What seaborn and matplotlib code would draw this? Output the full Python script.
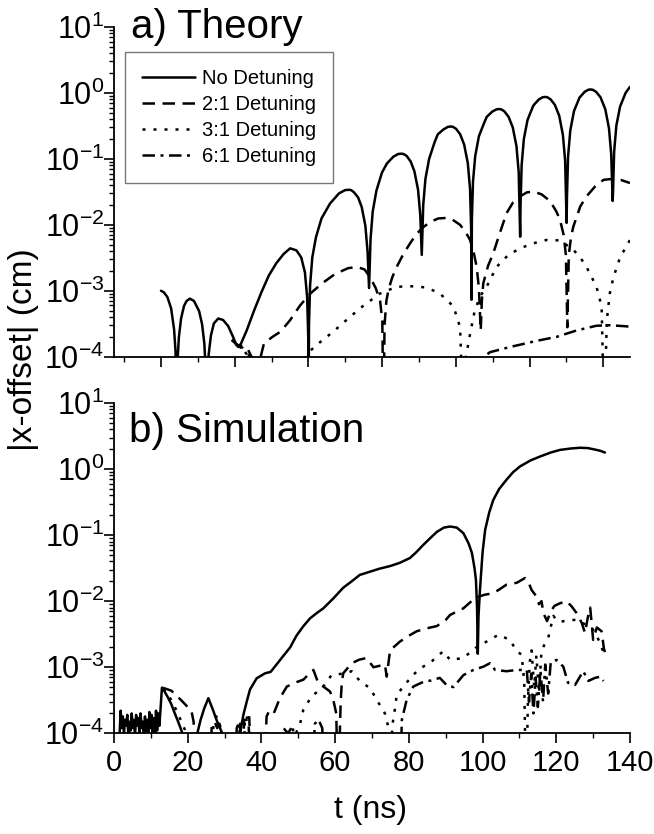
import numpy as np
import pandas as pd
import matplotlib
matplotlib.use("Agg")
import matplotlib.pyplot as plt
from matplotlib.lines import Line2D
from matplotlib.ticker import LogLocator, MultipleLocator, LogFormatterSciNotation
import seaborn as sns

# ---------------- data: a) Theory (time axis of the theory panel) ----------------
th_none_t = [0.0, 0.75, 1.75, 2.75, 3.55, 3.95, 4.25,
             4.55, 4.85, 5.45, 6.25, 6.95, 7.85, 8.95, 10.35, 11.15, 11.75, 12.05, 12.35,
             12.65, 12.95, 13.55, 14.35, 15.55, 16.85, 18.25, 19.55, 20.45, 21.05, 21.75,
             23.25, 25.25, 27.25, 29.25, 31.25, 33.25, 35.05, 36.75, 38.05, 39.05, 39.65, 39.95, 40.05,
             40.15, 40.45, 41.05, 42.05, 43.55, 45.85, 48.3, 49.95, 51.05, 51.59, 52.4, 53.48, 54.45,
             55.45, 56.05, 56.45,
             56.85, 57.45, 58.45, 59.95, 61.29, 63.05, 64.37, 65.25, 65.8, 66.65, 67.75, 68.75, 69.75,
             70.35, 70.75,
             71.15, 71.75, 72.75, 74.25, 75.1, 76.65, 77.86, 78.65, 79.21, 80.05, 81.17, 82.25, 83.25,
             83.85, 84.15, 84.25,
             84.35, 84.65, 85.25, 86.25, 87.75, 88.375, 89.85, 91.0, 91.75, 92.32, 93.15, 94.32, 95.45,
             96.45, 97.05, 97.45,
             97.55, 97.85, 98.45, 99.45, 100.95, 101.19, 102.55, 103.57, 104.25, 104.83, 105.7, 106.86,
             108.05, 109.05, 109.65, 110.05,
             110.15, 110.45, 111.05, 112.05, 113.55, 114.95, 115.9, 116.55, 117.15, 118.05, 119.25,
             120.55, 121.55, 122.15, 122.55,
             122.65, 122.95, 123.55, 124.55, 126.05, 127.25]
th_none_y = [1.0e-3, 9.5e-4, 8.0e-4, 5.4e-4, 2.6e-4, 1.2e-4, 1e-5,
             9.9e-5, 1.97e-4, 3.8e-4, 5.9e-4, 7.0e-4, 7.6e-4, 7.0e-4, 4.9e-4, 3.1e-4, 1.6e-4, 7.9e-5, 1e-5,
             5.6e-5, 1.1e-4, 2.1e-4, 3.2e-4, 3.8e-4, 3.6e-4, 2.9e-4, 2.0e-4, 1.5e-4, 1.4e-4, 1.6e-4,
             2.5e-4, 5.0e-4, 9.5e-4, 1.7e-3, 2.6e-3, 3.6e-3, 4.4e-3, 4.1e-3, 3.2e-3, 1.9e-3, 8.0e-4, 2.0e-4, 1e-5,
             3.0e-4, 1.2e-3, 3.2e-3, 6.5e-3, 1.25e-2, 2.1e-2, 3.0e-2, 3.36e-2, 3.4e-2, 3.36e-2, 3.1e-2,
             2.6e-2, 1.87e-2, 9.7e-3, 3.9e-3, 1.1e-3,
             6.0e-3, 1.6e-2, 3.3e-2, 6.2e-2, 8.5e-2, 0.108, 0.1186, 0.12, 0.1186, 0.111, 9.1e-2, 6.5e-2,
             3.4e-2, 1.4e-2, 3.5e-3,
             2.0e-2, 5.0e-2, 0.10, 0.18, 0.236, 0.28, 0.306, 0.31, 0.306, 0.286, 0.236, 0.165, 8.6e-2,
             3.5e-2, 8.7e-3, 7.3e-4,
             1.2e-2, 4.5e-2, 0.11, 0.22, 0.36, 0.433, 0.52, 0.563, 0.57, 0.563, 0.527, 0.433, 0.299,
             0.155, 6.3e-2, 6.6e-3,
             2.0e-2, 8.0e-2, 0.20, 0.39, 0.63, 0.661, 0.80, 0.86, 0.87, 0.86, 0.80, 0.661,
             0.45, 0.23, 9.4e-2, 1.07e-2,
             2.7e-2, 0.109, 0.27, 0.53, 0.85, 1.04, 1.116, 1.13, 1.116, 1.04, 0.859,
             0.565, 0.29, 0.118, 2.3e-2,
             3.2e-2, 0.129, 0.32, 0.62, 1.0, 1.24]

th_21_t = [19.25, 20.75, 22.25, 23.55, 24.55, 25.25, 26.05, 26.85, 27.95, 30.25, 32.45, 35.05, 37.75,
           40.45, 43.75, 47.25, 50.75, 53.25, 55.25, 56.75, 58.25, 59.45, 60.05, 60.35,
           60.65, 61.15, 61.75, 62.75, 63.95, 65.75, 67.55, 69.25, 71.25, 73.25, 75.25, 77.25, 79.05,
           81.15, 82.75, 83.85, 84.85, 85.65, 86.25, 86.75,
           87.05, 87.45, 88.75, 90.15, 91.75, 93.75, 95.55, 97.45, 99.25, 101.05, 103.25, 105.55,
           107.25, 108.25, 109.25, 109.85, 110.25,
           110.65, 111.25, 111.85, 113.75, 115.45, 117.75, 120.05, 122.75, 124.75, 127.25]
th_21_y = [1.8e-4, 1.5e-4, 1.45e-4, 1.3e-4, 1.0e-4, 6e-5, 1e-5, 9e-5, 1.6e-4, 2.0e-4, 2.4e-4, 3.6e-4, 6.0e-4,
           9.0e-4, 1.3e-3, 1.8e-3, 2.2e-3, 2.3e-3, 2.1e-3, 1.6e-3, 1.1e-3, 7.0e-4, 3.5e-4, 1e-5,
           3e-4, 7e-4, 1.05e-3, 1.6e-3, 2.3e-3, 3.6e-3, 5.2e-3, 7.2e-3, 9.3e-3, 1.12e-2, 1.25e-2, 1.27e-2, 1.2e-2,
           1.0e-2, 7.6e-3, 5.9e-3, 3.8e-3, 2.3e-3, 1.1e-3, 2.5e-4,
           7e-4, 1.3e-3, 2.4e-3, 3.7e-3, 7e-3, 1.5e-2, 2.2e-2, 2.7e-2, 3.1e-2, 3.2e-2, 2.9e-2, 2.3e-2,
           1.6e-2, 1.2e-2, 7e-3, 3.5e-3, 2.8e-4,
           3.5e-3, 6.5e-3, 9.3e-3, 1.9e-2, 2.7e-2, 3.8e-2, 4.8e-2, 5.0e-2, 4.8e-2, 4.3e-2]

th_31_t = [19.25, 20.75, 22.25, 23.75, 24.75, 25.25,
           36.75, 38.25, 40.25, 43.15, 46.75, 51.25, 54.85, 59.45, 63.95, 68.45, 72.05, 75.65, 79.35, 81.15, 82.05,
           82.75, 83.85, 85.15, 86.75, 88.35, 91.05, 94.25, 97.45, 100.75, 104.65, 108.25, 111.85, 113.75,
           115.45, 118.15, 119.55, 120.25,
           120.95, 121.75, 122.75, 124.55, 127.25]
th_31_y = [1.8e-4, 1.5e-4, 1.35e-4, 1.1e-4, 6e-5, 1e-5,
           1e-5, 8e-5, 1.2e-4, 1.66e-4, 2.4e-4, 4.0e-4, 5.9e-4, 9.1e-4, 1.15e-3, 1.17e-3, 1.12e-3, 9.1e-4, 5.8e-4, 2.8e-4, 1e-5,
           1e-4, 2.2e-4, 5.1e-4, 8.5e-4, 1.15e-3, 2.3e-3, 3.5e-3, 4.4e-3, 5.2e-3, 5.9e-3, 5.8e-3, 4.2e-3, 3.2e-3,
           2.3e-3, 1.15e-3, 5.8e-4, 1e-5,
           3.5e-4, 9e-4, 1.6e-3, 3.2e-3, 5.9e-3]

th_61_t = [19.25, 20.75, 22.25, 23.75, 24.75,
           84.25, 86.55, 89.25, 94.65, 101.95, 107.35, 112.75, 118.15, 121.85, 125.85, 127.25]
th_61_y = [1.8e-4, 1.5e-4, 1.3e-4, 1.0e-4, 5e-5,
           5e-5, 9e-5, 1.17e-4, 1.4e-4, 1.74e-4, 2.0e-4, 2.5e-4, 2.95e-4, 3.0e-4, 2.9e-4, 2.85e-4]

# ---------------- data: b) Simulation ----------------
sim_none_t = [1.5, 1.8, 2.1, 2.4, 2.7, 3.0, 3.3, 3.6, 3.9, 4.2, 4.5, 4.8, 5.1, 5.4, 5.7, 6.0, 6.3, 6.6,
              6.9, 7.2, 7.5, 7.8, 8.1, 8.4, 8.7, 9.0, 9.3, 9.6, 9.9, 10.2, 10.5, 10.8, 11.1, 11.4,
              11.7, 12.0, 12.3, 12.6,
              13.0, 13.3, 14.5, 15.5, 16.5, 17.5, 18.3, 19.0, 19.3,
              22.2, 22.6, 23.5, 24.5, 25.6, 26.8, 28.0, 29.2, 29.7,
              33.7, 34.2, 35.1, 36.0, 36.9, 38.7, 41.0, 42.5, 44.1, 46.0, 47.8, 49.5, 51.4, 53.2,
              55.0, 56.8, 59.5, 62.2, 64.5, 66.7, 69.5, 72.0, 74.9, 77.5, 80.3, 82.0, 83.9, 85.8,
              87.6, 89.5, 91.2, 93.0, 94.8, 96.2, 97.1, 97.8, 98.2, 98.5, 98.7, 98.9, 99.3, 100.0,
              100.7, 101.8, 102.9, 104.5, 106.5, 108.3, 110.2, 113.0, 115.6, 118.5, 121.0, 124.0,
              126.4, 128.5, 130.0, 131.8, 133.2]
sim_none_y = [9e-5, 2.2e-4, 1.2e-4, 1.8e-4, 1.0e-4, 1.6e-4, 1.3e-4, 1.9e-4, 9e-5, 1.5e-4, 1.1e-4, 2.0e-4,
              1.2e-4, 1.6e-4, 9e-5, 1.9e-4, 1.3e-4, 1.7e-4, 1.0e-4, 2.0e-4, 1.2e-4, 1.5e-4, 9e-5, 1.8e-4,
              1.1e-4, 1.6e-4, 8e-5, 2.1e-4, 1.2e-4, 1.9e-4, 1.0e-4, 1.7e-4, 9e-5, 2.2e-4, 1.1e-4, 2.0e-4,
              1.3e-4, 2.2e-4,
              4.9e-4, 4.7e-4, 3.6e-4, 2.8e-4, 2.0e-4, 1.45e-4, 1.1e-4, 8e-5, 1e-5,
              1e-5, 1.0e-4, 1.6e-4, 2.4e-4, 3.4e-4, 2.3e-4, 1.5e-4, 1.05e-4, 1e-5,
              1e-5, 1.0e-4, 1.9e-4, 3.0e-4, 4.6e-4, 6.8e-4, 8.1e-4, 8.5e-4, 1.1e-3, 1.5e-3, 2.0e-3, 3.0e-3,
              4.2e-3, 5.5e-3, 6.6e-3, 7.8e-3, 1.1e-2, 1.6e-2, 2.0e-2, 2.5e-2, 2.8e-2, 3.1e-2, 3.4e-2, 3.8e-2,
              4.5e-2, 5.5e-2, 7.1e-2, 9.0e-2, 0.112, 0.13, 0.135, 0.13, 0.107, 7.5e-2, 5.4e-2, 3.2e-2,
              2.1e-2, 8e-3, 1.6e-3, 6e-3, 1.5e-2, 5.5e-2, 0.12, 0.22, 0.34, 0.5, 0.69, 0.9, 1.1, 1.35,
              1.55, 1.78, 1.95, 2.05, 2.1, 2.08, 2.0, 1.9, 1.78]

sim_21_t = [13.0, 14.2, 15.6, 17.0, 18.4, 19.7, 21.0, 21.6, 22.3,
            25.8, 26.5, 27.3, 28.0, 28.6, 29.2, 29.6,
            32.5, 33.3, 34.0, 34.6, 35.3, 36.5, 37.2,
            40.5, 41.4, 42.3, 43.5, 45.0, 46.9, 49.0, 51.4, 53.0, 54.1, 55.4, 57.0, 58.6, 59.5, 60.3, 60.8,
            61.5, 61.8, 62.2, 64.5, 66.5, 68.5, 70.4, 72.0, 73.5, 74.0, 74.9, 77.6, 80.0, 82.1, 85.0,
            87.6, 90.0, 91.2, 94.8, 98.0, 100.5, 102.9, 104.5, 106.5, 109.3, 111.5, 112.5, 113.3, 114.5,
            115.3, 116.0, 116.5, 117.5, 118.5, 119.5, 121.0, 122.8, 124.2, 125.5, 126.9, 127.8, 128.5,
            129.2, 130.0, 131.0, 132.3, 132.9, 133.3]
sim_21_y = [4.9e-4, 4.7e-4, 4.4e-4, 3.7e-4, 3.1e-4, 2.6e-4, 2.2e-4, 1.5e-4, 1e-5,
            1e-5, 1.25e-4, 1.5e-4, 1.2e-4, 1.4e-4, 1.0e-4, 1e-5,
            1e-5, 1.2e-4, 1.4e-4, 1e-5, 1.6e-4, 1.6e-4, 1e-5,
            1e-5, 1.8e-4, 2.3e-4, 2.1e-4, 3.4e-4, 5.1e-4, 5.8e-4, 6.5e-4, 8.0e-4, 9.1e-4, 5.8e-4, 5.0e-4,
            4.3e-4, 3.2e-4, 2.0e-4, 1e-5,
            3e-4, 5.8e-4, 8.1e-4, 1.15e-3, 1.3e-3, 1.38e-3, 1.0e-3, 1.05e-3, 1.1e-3, 7.2e-4, 1.8e-3,
            2.45e-3, 3.0e-3, 3.5e-3, 3.9e-3, 4.2e-3, 5.2e-3, 6.2e-3, 7.8e-3, 1.12e-2, 1.25e-2, 1.32e-2,
            1.5e-2, 1.78e-2, 1.9e-2, 2.24e-2, 1.9e-2, 1.48e-2, 1.2e-2, 9e-3, 1.0e-2, 6.6e-3, 5e-3, 7e-3,
            8.5e-3, 9.3e-3, 1.0e-2, 8.3e-3, 6.6e-3, 4.7e-3, 3.3e-3, 5.5e-3, 8e-3, 2.6e-3, 4e-3, 3.5e-3,
            1.95e-3, 1.6e-3]

sim_31_t = [13.5, 14.5, 15.5, 16.5, 17.5, 18.5, 19.5, 20.0,
            26.0, 27.0, 27.8, 28.8, 29.5,
            47.8, 49.0, 50.5, 51.4, 53.6, 56.8, 59.0, 62.7, 64.5, 66.7, 69.5, 71.3, 73.5, 74.5, 74.9,
            75.5, 76.2, 76.7, 78.5, 81.0, 83.0, 86.2, 89.3, 91.2, 94.8, 98.0, 101.1, 104.3, 107.4, 109.3,
            110.6, 111.3, 111.8, 112.3, 112.8, 113.3, 114.0, 114.6, 115.3, 116.0, 116.8, 117.8, 119.2,
            120.3, 121.4, 123.5, 125.5, 127.3, 129.1, 130.5, 131.9, 133.2]
sim_31_y = [4.8e-4, 4.0e-4, 3.2e-4, 2.5e-4, 1.9e-4, 1.4e-4, 1.05e-4, 1e-5,
            1e-5, 1.4e-4, 1.8e-4, 1.3e-4, 1e-5,
            1e-5, 9e-5, 1.4e-4, 2.3e-4, 3.6e-4, 5.1e-4, 7.6e-4, 8.1e-4, 8.7e-4, 6.2e-4, 4.8e-4, 3.2e-4,
            2.0e-4, 1.2e-4, 1e-5,
            1.3e-4, 2.3e-4, 3.8e-4, 5.1e-4, 7.5e-4, 9.5e-4, 1.23e-3, 1.74e-3, 1.29e-3, 1.38e-3, 1.95e-3,
            2.45e-3, 3.1e-3, 2.6e-3, 1.74e-3, 1.55e-3, 6e-4, 1e-5, 3e-4, 1.2e-3, 1.8e-3, 5e-4, 1.5e-3,
            4e-4, 1.8e-3, 2.2e-3, 2.75e-3, 6.0e-3, 5.0e-3, 4.9e-3, 5.2e-3, 5.2e-3, 4.6e-3, 4.2e-3,
            3.4e-3, 2.3e-3, 1.45e-3]

sim_61_t = [32.8, 33.5, 34.2, 35.0, 35.5, 36.7, 37.4,
            45.0, 46.0, 47.2, 48.5, 50.0,
            53.5, 54.5, 55.5, 56.5, 57.5,
            77.5, 78.1, 79.4, 81.2, 83.9, 86.0, 88.4, 90.2, 92.1, 94.8, 97.5, 100.2, 102.0, 103.4, 106.5,
            109.3, 112.0, 112.6, 113.2, 113.8, 114.4, 115.0, 115.7, 116.4, 117.0, 117.8, 118.5, 120.1,
            121.9, 123.2, 125.1, 127.3, 128.7, 130.5, 131.9, 132.8]
sim_61_y = [1e-5, 1.3e-4, 1.5e-4, 1e-5, 1.7e-4, 1.75e-4, 1e-5,
            1e-5, 1.2e-4, 1.0e-4, 1.3e-4, 1e-5,
            1e-5, 1.4e-4, 1.6e-4, 1.2e-4, 1e-5,
            1e-5, 1.6e-4, 3.2e-4, 5.1e-4, 6.0e-4, 6.3e-4, 6.9e-4, 5.4e-4, 5.0e-4, 7.6e-4, 9.1e-4, 1.02e-3,
            1.15e-3, 9.1e-4, 8.7e-4, 9.1e-4, 9.1e-4, 3e-4, 8e-4, 2e-4, 7e-4, 2.5e-4, 9e-4, 3e-4, 1.1e-3,
            4e-4, 1.2e-3, 1.29e-3, 1.02e-3, 5.8e-4, 5.4e-4, 8.7e-4, 6.2e-4, 6.9e-4, 7.2e-4, 6.2e-4]

labels = ["No Detuning", "2:1 Detuning", "3:1 Detuning", "6:1 Detuning"]

# ---------------- styling ----------------
sns.set_theme(style="ticks")
plt.rcParams["font.family"] = ["Liberation Sans", "DejaVu Sans"]
plt.rcParams["mathtext.fontset"] = "custom"
plt.rcParams["mathtext.rm"] = "Liberation Sans"
plt.rcParams["mathtext.it"] = "Liberation Sans:italic"
plt.rcParams["mathtext.bf"] = "Liberation Sans:bold"
for key in ("text.color", "axes.labelcolor", "xtick.color", "ytick.color", "axes.edgecolor"):
    plt.rcParams[key] = "black"

dash_map = {
    labels[0]: "",
    labels[1]: (5.0, 3.0),
    labels[2]: (1.2, 3.2),
    labels[3]: (5.0, 2.2, 1.2, 2.2),
}

def long_frame(series):
    parts = []
    for name, (t, y) in zip(labels, series):
        parts.append(pd.DataFrame({"t": t, "y": y, "series": name}))
    return pd.concat(parts, ignore_index=True)

df_th = long_frame([(th_none_t, th_none_y), (th_21_t, th_21_y),
                    (th_31_t, th_31_y), (th_61_t, th_61_y)])
df_sim = long_frame([(sim_none_t, sim_none_y), (sim_21_t, sim_21_y),
                     (sim_31_t, sim_31_y), (sim_61_t, sim_61_y)])

W, H = 654, 834
fig = plt.figure(figsize=(W / 100, H / 100), dpi=100)
left, right = 114 / W, 630 / W
ax1 = fig.add_axes([left, 1 - 356.7 / H, right - left, (356.7 - 27) / H])
ax2 = fig.add_axes([left, 1 - 733.3 / H, right - left, (733.3 - 403) / H])

LW = 1.8
for ax, df in ((ax1, df_th), (ax2, df_sim)):
    sns.lineplot(data=df, x="t", y="y", style="series", dashes=dash_map,
                 color="black", linewidth=LW, estimator=None, sort=False,
                 legend=False, ax=ax)
    ax.set_yscale("log")
    ax.set_ylim(1e-4, 10)
    ax.yaxis.set_major_locator(LogLocator(base=10, numticks=10))
    ax.yaxis.set_minor_locator(LogLocator(base=10, subs=np.arange(2, 10), numticks=20))
    ax.yaxis.set_major_formatter(LogFormatterSciNotation())
    ax.set_xlabel("")
    ax.set_ylabel("")
    for s in ("top", "right"):
        ax.spines[s].set_visible(False)
    for s in ("left", "bottom"):
        ax.spines[s].set_linewidth(1.3)
        ax.spines[s].set_color("black")
    ax.tick_params(axis="both", which="major", direction="out", length=7, width=1.2,
                   color="black")
    ax.tick_params(axis="both", which="minor", direction="out", length=3.5, width=1.0,
                   color="black")
    ax.tick_params(axis="y", which="major", labelsize=22, pad=0)
    ax.tick_params(axis="x", which="major", labelsize=21, pad=4)
    ax.xaxis.set_major_locator(MultipleLocator(20))
    ax.xaxis.set_minor_locator(MultipleLocator(10))
    ax.set_facecolor("white")

ax1.set_xlim(-12.75, 127.25)
ax1.tick_params(axis="x", which="both", labelbottom=False)
ax2.set_xlim(0, 140)

handles = [Line2D([], [], color="black", linewidth=LW,
                  linestyle="-" if dash_map[l] == "" else (0, dash_map[l])) for l in labels]
leg = ax1.legend(handles, labels, loc="upper left", bbox_to_anchor=(0.0213, 0.924),
                 borderaxespad=0, fontsize=14.5, frameon=True, fancybox=False,
                 edgecolor="#555555", handlelength=2.65, handletextpad=0.3,
                 labelspacing=0.35, borderpad=0.85)
leg.get_frame().set_linewidth(1.0)

fig.text(131 / W, 1 - 38 / H, "a) Theory", fontsize=29, va="baseline", ha="left")
fig.text(129 / W, 1 - 442 / H, "b) Simulation", fontsize=29, va="baseline", ha="left")
fig.text(24 / W, 1 - 350 / H, "|x-offset| (cm)", fontsize=24, rotation=90,
         va="center", ha="center")
fig.text(371 / W, 1 - 810 / H, "t (ns)", fontsize=23, va="center", ha="center")

fig.savefig("out.png", dpi=100, facecolor="white")
